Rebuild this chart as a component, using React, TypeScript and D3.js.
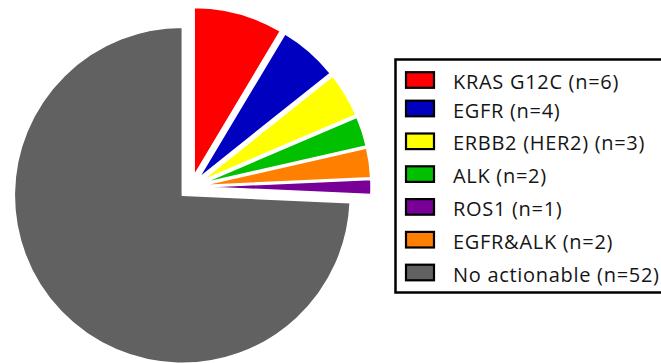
import React from "react";
import * as d3 from "d3";

const labels = ["KRAS G12C", "EGFR", "ERBB2 (HER2)", "ALK", "ROS1", "EGFR&ALK", "No actionable"];
const counts = [6, 4, 3, 2, 1, 2, 52];
const colors = ["#ff0000", "#0000c0", "#ffff00", "#00c000", "#780096", "#ff8000", "#616161"];
// order of slices around the pie (clockwise from 12 o'clock), as indices into the arrays above
const pieOrder = [0, 1, 2, 3, 5, 4, 6];

const W = 661;
const H = 363;
const CX = 191;
const CY = 187;
const R = 168;
const EXPLODE = 12;

export default function App() {
  const items = pieOrder.map((i) => ({ i, label: labels[i], value: counts[i], color: colors[i] }));
  const pie = d3.pie<any>().value((d) => d.value).sort(null);
  const arcs = pie(items);
  const arcGen = d3.arc<any>().innerRadius(0).outerRadius(R);

  const legendX = 395.5;
  const legendTop = 59.5;
  const legendBottom = 292.5;
  const rowY = (k: number) => (k === 0 ? 80 : 108.5 + (k - 1) * 32.8);

  return (
    <div style={{ position: "fixed", left: 0, top: 0, width: W, height: H, background: "#fff" }}>
      <svg width={W} height={H} style={{ display: "block" }}>
        <g transform={`translate(${CX},${CY})`}>
          {arcs.map((a, k) => {
            const mid = (a.startAngle + a.endAngle) / 2;
            const dx = Math.sin(mid) * EXPLODE;
            const dy = -Math.cos(mid) * EXPLODE;
            return (
              <path
                key={k}
                d={arcGen(a) as string}
                transform={`translate(${dx},${dy})`}
                fill={a.data.color}
                stroke="#ffffff"
                strokeWidth={1.5}
                strokeLinejoin="round"
              />
            );
          })}
        </g>
        <rect
          x={legendX}
          y={legendTop}
          width={W + 10 - legendX}
          height={legendBottom - legendTop}
          fill="#fff"
          stroke="#000"
          strokeWidth={2.5}
        />
        {labels.map((lab, k) => {
          const y = rowY(k);
          return (
            <g key={k}>
              <rect x={406} y={y - 7.8} width={28} height={15.6} fill={colors[k]} stroke="#000" strokeWidth={2.2} />
              <text
                x={453}
                y={y + 9}
                fontFamily="'Open Sans', sans-serif"
                fontSize={20}
                letterSpacing={0.7}
                fill="#151515"
              >
                {`${lab} (n=${counts[k]})`}
              </text>
            </g>
          );
        })}
      </svg>
    </div>
  );
}
